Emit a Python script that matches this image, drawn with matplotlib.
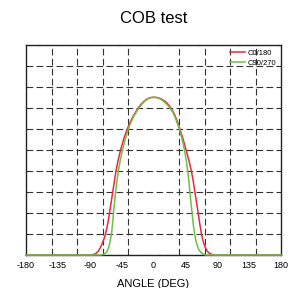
import numpy as np
import matplotlib
matplotlib.use("Agg")
import matplotlib.pyplot as plt

# C0/180 plane
red_angle = [-180, -88, -84, -81, -78, -75, -72, -69, -66, -63, -60.5, -58, -55.5, -53, -50,
             -46.5, -42, -37, -33, -29, -25, -21, -17, -13, -9, -5, 0, 5, 9, 13, 17, 21, 25,
             29, 33, 37, 41.5, 46, 50, 53.5, 56.2, 58.6, 61, 63.3, 65.5, 68, 70.5, 73, 76, 79,
             82, 86, 180]
red_val = [0, 0, 0.003, 0.008, 0.018, 0.035, 0.058, 0.085, 0.125, 0.18, 0.235, 0.29, 0.345,
           0.4, 0.45, 0.5, 0.553, 0.6, 0.632, 0.658, 0.682, 0.703, 0.72, 0.733, 0.743, 0.749,
           0.751, 0.75, 0.746, 0.739, 0.73, 0.716, 0.698, 0.674, 0.642, 0.603, 0.555, 0.5,
           0.45, 0.4, 0.35, 0.297, 0.245, 0.195, 0.145, 0.095, 0.06, 0.036, 0.018, 0.008,
           0.003, 0, 0]

# C90/270 plane
green_angle = [-180, -74, -71, -68, -65, -62.5, -60.5, -59, -57.8, -56.6, -55.2, -53.6, -51.7,
               -49.6, -47, -43.8, -40, -35.5, -31.5, -27.5, -23.5, -19.5, -15.5, -11.5, -7.5,
               -3.5, 0, 3.5, 7.5, 11.5, 15.5, 19.5, 23.5, 27.5, 31.5, 36.5, 40.5, 43.8, 46.2,
               48.3, 50, 51.5, 53, 54.6, 56.2, 58, 59.8, 61.8, 64, 67, 70, 74, 180]
green_val = [0, 0, 0.003, 0.008, 0.02, 0.045, 0.08, 0.11, 0.15, 0.195, 0.245, 0.297, 0.35,
             0.4, 0.45, 0.5, 0.55, 0.6, 0.635, 0.662, 0.685, 0.705, 0.722, 0.735, 0.745, 0.75,
             0.751, 0.75, 0.746, 0.739, 0.728, 0.715, 0.699, 0.678, 0.647, 0.6, 0.55, 0.5,
             0.45, 0.4, 0.35, 0.297, 0.245, 0.195, 0.145, 0.1, 0.07, 0.045, 0.025, 0.012,
             0.005, 0, 0]

labels = ["C0/180", "C90/270"]
xtick_labels = [-180, -135, -90, -45, 0, 45, 90, 135, 180]

plt.rcParams["font.family"] = ["Liberation Sans", "DejaVu Sans"]

fig = plt.figure(figsize=(2.95, 2.88), dpi=100)
ax = fig.add_axes([26 / 295, 33 / 288, 255 / 295, 210 / 288])

ax.plot(red_angle, red_val, color="#e8283c", lw=1.1, label=labels[0], zorder=3, clip_on=False)
ax.plot(green_angle, green_val, color="#6cc04a", lw=1.1, label=labels[1], zorder=3, clip_on=False)

ax.set_xlim(-180, 180)
ax.set_ylim(0, 1)

# labels every 45, grid every 36
ax.set_xticks(xtick_labels)
ax.set_xticklabels([str(v) for v in xtick_labels], fontsize=6.5)
ax.set_xticks(np.arange(-180, 181, 36), minor=True)
ax.set_yticks(np.arange(0, 1.01, 0.1))
ax.set_yticklabels([])
ax.tick_params(axis="both", which="both", length=0, pad=4)
ax.grid(True, which="minor", axis="x", color="#333333", lw=0.8, linestyle=(0, (6, 3)))
ax.grid(True, which="major", axis="y", color="#333333", lw=0.8, linestyle=(0, (6, 3)))

for s in ax.spines.values():
    s.set_color("#222222")
    s.set_linewidth(1.0)

ax.set_xlabel("ANGLE (DEG)", fontsize=8, labelpad=7)
ax.set_title("COB test", fontsize=12, pad=16)

ax.legend(loc="upper right", fontsize=5.5, frameon=False, handlelength=1.9,
          handletextpad=0.4, labelspacing=0.35, borderaxespad=0.2,
          bbox_to_anchor=(1.0, 1.0))

fig.savefig("out.png", dpi=100)
